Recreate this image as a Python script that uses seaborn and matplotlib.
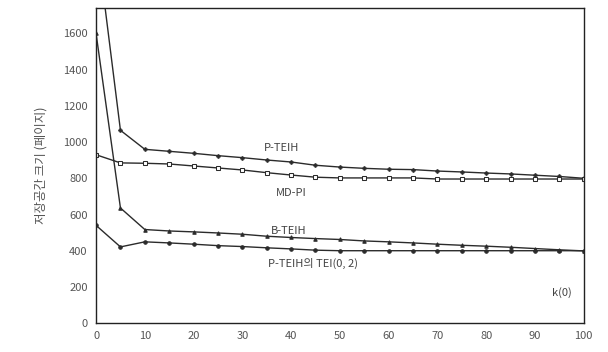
import numpy as np
import pandas as pd
import matplotlib
matplotlib.use("Agg")
import matplotlib.pyplot as plt
import seaborn as sns

# k values (x axis)
k_values = [0, 5, 10, 15, 20, 25, 30, 35, 40, 45, 50,
            55, 60, 65, 70, 75, 80, 85, 90, 95, 100]

# storage size (pages) per method
p_teih = [2140, 1065, 960, 949, 938, 925, 914, 901, 890, 872, 862,
          855, 850, 848, 840, 835, 829, 824, 817, 810, 800]
md_pi = [930, 885, 883, 879, 868, 857, 846, 831, 818, 806, 802,
         802, 802, 802, 796, 796, 796, 796, 796, 796, 796]
b_teih = [1600, 636, 517, 509, 504, 498, 491, 480, 473, 467, 462,
          454, 449, 443, 436, 430, 425, 419, 412, 405, 399]
p_teih_tei = [540, 421, 449, 443, 436, 428, 423, 416, 410, 403, 400,
              400, 400, 400, 400, 400, 400, 400, 400, 400, 400]

series_names = ["P-TEIH", "MD-PI", "B-TEIH", "P-TEIH의 TEI(0, 2)"]

df = pd.DataFrame({
    "k": k_values * 4,
    "size": p_teih + md_pi + b_teih + p_teih_tei,
    "method": np.repeat(series_names, len(k_values)),
})

sns.set_style("white")
plt.rcParams["font.family"] = ["Noto Sans CJK KR", "DejaVu Sans"]

fig = plt.figure(figsize=(6.08, 3.52), dpi=100)
ax = fig.add_axes([0.158, 0.082, 0.802, 0.895])

line_color = "#2b2b2b"
sns.lineplot(data=df, x="k", y="size", hue="method", style="method",
             markers={"P-TEIH": "P", "MD-PI": "s", "B-TEIH": "^",
                      "P-TEIH의 TEI(0, 2)": "o"},
             dashes=False, palette=[line_color] * 4, linewidth=1.0,
             markersize=2.5, markeredgecolor=line_color, legend=False, ax=ax)

# MD-PI has hollow square markers
for ln in ax.lines:
    if ln.get_marker() == "s":
        ln.set_markerfacecolor("white")

ax.set_xlim(0, 100)
ax.set_ylim(0, 1740)
ax.set_xticks(range(0, 101, 10))
ax.set_yticks(range(0, 1601, 200))
ax.tick_params(axis="both", length=0, labelsize=8, colors="#555555", pad=6)
ax.set_xlabel("")
ax.set_ylabel("저장공간 크기 (페이지)", fontsize=9, color="#555555", labelpad=11)
for sp in ax.spines.values():
    sp.set_color("#222222")
    sp.set_linewidth(1.0)

txt = dict(fontsize=8, color="#444444", ha="center", va="center")
ax.text(38, 965, "P-TEIH", **txt)
ax.text(40, 717, "MD-PI", **txt)
ax.text(39.5, 508, "B-TEIH", **txt)
ax.text(44.5, 331, "P-TEIH의 TEI(0, 2)", **txt)
ax.text(95.5, 171, "k(0)", **txt)

fig.savefig("out.png", dpi=100)
plt.close(fig)
